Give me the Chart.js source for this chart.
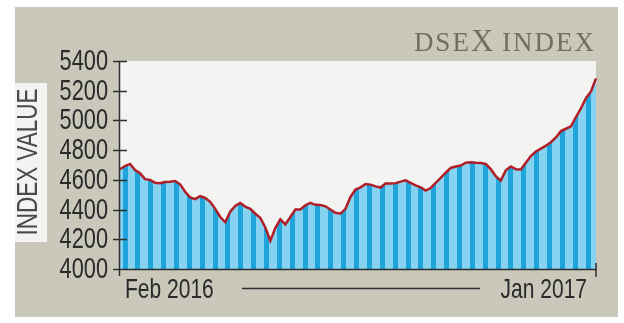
<!DOCTYPE html>
<html><head><meta charset="utf-8">
<script src="https://cdn.jsdelivr.net/npm/chart.js@4.4.1/dist/chart.umd.min.js"></script>
<style>
html,body{margin:0;padding:0;background:#fff;}
#wrap{position:relative;width:624px;height:323px;}
</style></head><body>
<div id="wrap"><canvas id="c" width="624" height="323"></canvas></div>
<script>
// ---- data ----
const indexValues = [
 4671,4693,4707,4666,4644,4605,4600,4581,4577,4585,
 4588,4592,4570,4520,4482,4470,4490,4478,4452,4405,
 4350,4315,4385,4425,4445,4420,4405,4372,4345,4280,
 4190,4275,4335,4300,4350,4400,4400,4428,4445,4432,
 4431,4422,4400,4378,4372,4405,4485,4535,4550,4572,
 4568,4556,4548,4576,4575,4578,4588,4597,4580,4563,
 4550,4528,4545,4580,4613,4648,4680,4690,4696,4716,
 4718,4715,4713,4708,4672,4625,4595,4665,4690,4672,
 4670,4715,4760,4790,4810,4830,4853,4885,4928,4944,
 4960,5023,5082,5150,5195,5283
];
const categories = indexValues.map((_, i) => String(i));
const xTickLabels = ['Feb 2016', 'Jan 2017'];
const yTickValues = [4000, 4200, 4400, 4600, 4800, 5000, 5200, 5400];
const yAxisTitle = 'INDEX VALUE';
const chartTitle = ['DSE', 'X', ' INDEX'];

const SANS = "'Liberation Sans',Arial,sans-serif";
const SERIF = "'Liberation Serif','DejaVu Serif',serif";
const SQUEEZE = 0.75;

function stripeFill(context) {
  const ch = context.chart;
  const a = ch.chartArea;
  if (!a) return '#1ea6da';
  const W = a.right - a.left;
  const n = 37, P = W / n, off = 2.5, dw = 5;
  const g = ch.ctx.createLinearGradient(a.left, 0, a.right, 0);
  const light = '#86d3f1', dark = '#1fa5db';
  g.addColorStop(0, light);
  for (let k = 0; k < n; k++) {
    const p0 = Math.min(1, (k * P + off) / W), p1 = Math.min(1, (k * P + off + dw) / W);
    g.addColorStop(p0, light); g.addColorStop(p0, dark);
    g.addColorStop(p1, dark); g.addColorStop(p1, light);
  }
  g.addColorStop(1, light);
  return g;
}

function squeezedText(ctx, text, x, y, align, rot) {
  ctx.save();
  ctx.translate(x, y);
  if (rot) ctx.rotate(rot);
  ctx.scale(SQUEEZE, 1);
  ctx.textAlign = align;
  ctx.fillText(text, 0, 0);
  ctx.restore();
}

const deco = {
  id: 'deco',
  beforeDraw(chart) {
    const { ctx, chartArea: a } = chart;
    ctx.save();
    ctx.fillStyle = '#ffffff'; ctx.fillRect(0, 0, chart.width, chart.height);
    ctx.fillStyle = '#c9c8bb'; ctx.fillRect(15, 7, 603, 310);
    ctx.fillStyle = '#f3f3f2'; ctx.fillRect(a.left, a.top, a.right - a.left, a.bottom - a.top);
    ctx.fillStyle = '#f3f3f1'; ctx.fillRect(15, 83, 32, 159);
    ctx.restore();
  },
  afterDraw(chart) {
    const { ctx, chartArea: a } = chart;
    const ys = chart.scales.y;
    ctx.save();
    ctx.strokeStyle = '#2e2e2e'; ctx.lineWidth = 1.5;
    ctx.beginPath();
    ctx.moveTo(a.left - 0.5, a.top); ctx.lineTo(a.left - 0.5, a.bottom + 7);
    ctx.moveTo(a.left - 1, a.bottom + 0.5); ctx.lineTo(a.right, a.bottom + 0.5);
    ctx.moveTo(a.right, a.bottom - 6); ctx.lineTo(a.right, a.bottom + 8);
    ys.ticks.forEach(t => {
      const y = Math.round(ys.getPixelForValue(t.value)) + 0.5;
      ctx.moveTo(a.left - 7, y); ctx.lineTo(a.left + 7, y);
    });
    ctx.stroke();
    // y tick labels (condensed)
    ctx.fillStyle = '#2a2a2a';
    ctx.textBaseline = 'middle';
    ctx.font = '29px ' + SANS;
    ys.ticks.forEach(t => {
      squeezedText(ctx, String(t.value), a.left - 12, ys.getPixelForValue(t.value) + 1, 'right');
    });
    // x labels
    ctx.textBaseline = 'alphabetic';
    ctx.font = '28px ' + SANS;
    squeezedText(ctx, xTickLabels[0], a.left + 5, 298, 'left');
    squeezedText(ctx, xTickLabels[1], a.right - 9, 298, 'right');
    ctx.beginPath();
    ctx.moveTo(242, 288.5); ctx.lineTo(480, 288.5);
    ctx.stroke();
    // y axis title
    ctx.fillStyle = '#4a4a4a';
    ctx.font = '30px ' + SANS;
    squeezedText(ctx, yAxisTitle, 37, 162, 'center', -Math.PI / 2);
    // chart title
    ctx.fillStyle = '#6e6f5e'; ctx.textAlign = 'left';
    const parts = [
      { t: chartTitle[0], f: '27px ' + SERIF, ls: '2px' },
      { t: chartTitle[1], f: '31px ' + SERIF, ls: '0px' },
      { t: chartTitle[2], f: '27px ' + SERIF, ls: '2px' }
    ];
    let total = 0;
    parts.forEach(p => { ctx.font = p.f; ctx.letterSpacing = p.ls; p.w = ctx.measureText(p.t).width; total += p.w; });
    let x = 596 - total;
    parts.forEach(p => { ctx.font = p.f; ctx.letterSpacing = p.ls; ctx.fillText(p.t, x, 51); x += p.w; });
    ctx.restore();
  }
};

new Chart(document.getElementById('c'), {
  type: 'line',
  data: {
    labels: categories,
    datasets: [{
      data: indexValues,
      borderColor: '#b01e27',
      borderWidth: 2.5,
      pointRadius: 0,
      tension: 0,
      fill: 'start',
      backgroundColor: stripeFill
    }]
  },
  options: {
    responsive: false,
    animation: false,
    events: [],
    layout: { padding: { left: 0, top: 61, right: 28, bottom: 54 } },
    plugins: { legend: { display: false }, tooltip: { enabled: false }, title: { display: false } },
    scales: {
      x: { type: 'category', display: false, offset: false },
      y: {
        min: 4000, max: 5400,
        afterBuildTicks: s => { s.ticks = yTickValues.map(v => ({ value: v })); },
        afterFit: s => { s.width = 120; },
        grid: { display: false, drawTicks: false },
        border: { display: false },
        ticks: { display: false }
      }
    }
  },
  plugins: [deco]
});
</script>
</body></html>
